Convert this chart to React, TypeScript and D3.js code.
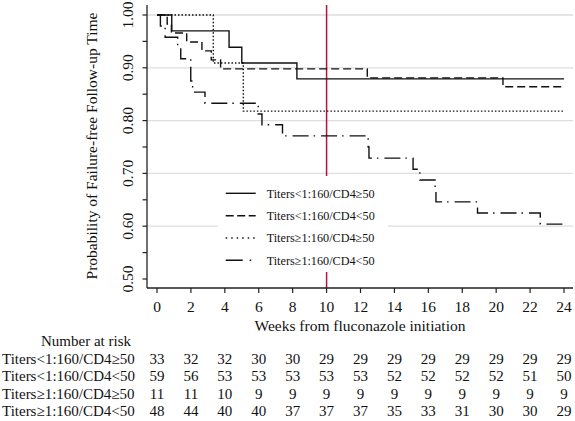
import React from "react";
import * as d3 from "d3";

const W = 575;
const H = 421;

const seriesNames = [
  "Titers<1:160/CD4≥50",
  "Titers<1:160/CD4<50",
  "Titers≥1:160/CD4≥50",
  "Titers≥1:160/CD4<50",
];

const timesA = [0, 0.87, 4.25, 5.0, 8.25, 24];
const survA = [1, 0.97, 0.939, 0.909, 0.879, 0.879];

const timesB = [0, 0.6, 0.85, 1.75, 2.65, 3.2, 3.75, 12.4, 20.4, 24];
const survB = [1, 0.983, 0.966, 0.949, 0.932, 0.915, 0.898, 0.881, 0.864, 0.864];

const timesC = [0, 3.32, 5.09, 24];
const survC = [1, 0.909, 0.818, 0.818];

const timesD = [0, 0.2, 0.48, 1.22, 1.4, 1.99, 2.1, 2.83, 5.97, 6.19, 7.4, 12.45, 12.5, 15.1, 15.5, 16.4, 16.45, 18.9, 22.6, 24];
const survD = [1, 0.979, 0.958, 0.9375, 0.917, 0.875, 0.854, 0.833, 0.8125, 0.792, 0.771, 0.75, 0.729, 0.708, 0.6875, 0.667, 0.646, 0.625, 0.604, 0.604];

const xTicks = [0, 2, 4, 6, 8, 10, 12, 14, 16, 18, 20, 22, 24];
const yLabelTicks = [0.5, 0.6, 0.7, 0.8, 0.9, 1.0];
const yMinorTicks = [0.5, 0.55, 0.6, 0.65, 0.7, 0.75, 0.8, 0.85, 0.9, 0.95, 1.0];
const gridValues = [0.6, 0.7, 0.8, 0.9, 1.0];

const riskA = [33, 32, 32, 30, 30, 29, 29, 29, 29, 29, 29, 29, 29];
const riskB = [59, 56, 53, 53, 53, 53, 53, 52, 52, 52, 52, 51, 50];
const riskC = [11, 11, 10, 9, 9, 9, 9, 9, 9, 9, 9, 9, 9];
const riskD = [48, 44, 40, 40, 37, 37, 37, 35, 33, 31, 30, 30, 29];

const refWeek = 10;

const dashes = ["none", "8,4", "1.5,2", "16,5,1.5,6"];
const legendDashes = ["none", "8,3.5", "1.5,4", "17,7,1.5,7"];

const FONT = "'Liberation Serif', 'Times New Roman', serif";

export default function App() {
  const x = d3.scaleLinear().domain([0, 24]).range([157, 564]);
  const y = d3.scaleLinear().domain([0.5, 1]).range([279, 15]);
  const axisLeft = 147;
  const axisRight = 573;
  const axisBottom = 288;
  const axisTop = 5;

  const line = d3
    .line<[number, number]>()
    .x((d) => x(d[0]))
    .y((d) => y(d[1]))
    .curve(d3.curveStepAfter);

  const series = [
    [timesA, survA],
    [timesB, survB],
    [timesC, survC],
    [timesD, survD],
  ];
  const risks = [riskA, riskB, riskC, riskD];

  const legendX0 = 225.7;
  const legendX1 = 255.7;
  const legendTextX = 266.7;
  const legendY = [193.3, 215.7, 238, 260.3];

  const rowY = [358.5, 376, 393.5, 411];

  return (
    <svg width={W} height={H} style={{ position: "absolute", left: 0, top: 0, background: "#fff" }} fontFamily={FONT}>
      <rect x={0} y={0} width={W} height={H} fill="#fff" />
      {gridValues.map((g) => (
        <line key={g} x1={axisLeft} x2={axisRight} y1={y(g)} y2={y(g)} stroke="#dedede" strokeWidth={1.3} />
      ))}
      <line x1={x(refWeek)} x2={x(refWeek)} y1={axisTop} y2={axisBottom} stroke="#b8123c" strokeWidth={1.5} />
      {series.map((s, i) => {
        const pts = s[0].map((t, j) => [t, s[1][j]] as [number, number]);
        return (
          <path
            key={i}
            d={line(pts) || ""}
            fill="none"
            stroke="#111"
            strokeWidth={1.4}
            strokeDasharray={dashes[i]}
          />
        );
      })}
      {/* legend */}
      <rect x={218} y={176} width={170} height={96} fill="#fff" />
      {seriesNames.map((n, i) => (
        <g key={n}>
          <line x1={legendX0} x2={legendX1} y1={legendY[i]} y2={legendY[i]} stroke="#111" strokeWidth={1.4} strokeDasharray={legendDashes[i]} />
          <text x={legendTextX} y={legendY[i]} dy="0.35em" fontSize={12.2} fill="#111">
            {n}
          </text>
        </g>
      ))}
      {/* axes */}
      <line x1={axisLeft} x2={axisLeft} y1={axisTop} y2={axisBottom} stroke="#222" strokeWidth={1.3} />
      <line x1={axisLeft} x2={axisRight} y1={axisBottom} y2={axisBottom} stroke="#222" strokeWidth={1.3} />
      {yMinorTicks.map((t) => (
        <line key={t} x1={axisLeft - 4.5} x2={axisLeft} y1={y(t)} y2={y(t)} stroke="#222" strokeWidth={1.2} />
      ))}
      {yLabelTicks.map((t) => (
        <text
          key={t}
          transform={`translate(128,${y(t)}) rotate(-90)`}
          textAnchor="middle"
          dy="0.35em"
          fontSize={15.5}
          fill="#111"
        >
          {d3.format(".2f")(t)}
        </text>
      ))}
      {xTicks.map((t) => (
        <g key={t}>
          <line x1={x(t)} x2={x(t)} y1={axisBottom} y2={axisBottom + 5} stroke="#222" strokeWidth={1.2} />
          <text x={x(t)} y={307} dy="0.35em" textAnchor="middle" fontSize={15.5} fill="#111">
            {t}
          </text>
        </g>
      ))}
      <text x={(axisLeft + axisRight) / 2} y={326} dy="0.35em" textAnchor="middle" fontSize={15.5} fill="#111">
        Weeks from fluconazole initiation
      </text>
      <text transform={`translate(92,146) rotate(-90)`} textAnchor="middle" dy="0.35em" fontSize={15.5} fill="#111">
        Probability of Failure-free Follow-up Time
      </text>
      {/* number at risk table */}
      <text x={41} y={340.5} dy="0.35em" fontSize={15} fill="#111">
        Number at risk
      </text>
      {seriesNames.map((n, i) => (
        <g key={"r" + i}>
          <text x={2} y={rowY[i]} dy="0.35em" fontSize={15} fill="#111">
            {n}
          </text>
          {risks[i].map((v, j) => (
            <text key={j} x={x(xTicks[j])} y={rowY[i]} dy="0.35em" textAnchor="middle" fontSize={15} fill="#111">
              {v}
            </text>
          ))}
        </g>
      ))}
    </svg>
  );
}
